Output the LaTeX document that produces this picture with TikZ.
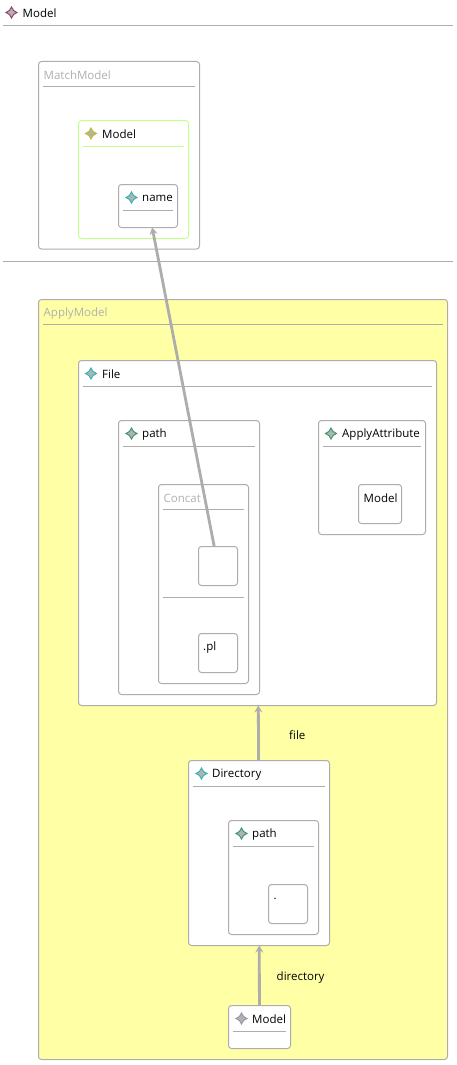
\documentclass[tikz,border=0pt]{standalone}
\usepackage{fontspec}
\setmainfont{Open Sans}
\usetikzlibrary{arrows.meta,shapes.geometric}

\definecolor{rulegray}{HTML}{ADADAD}
\definecolor{palegray}{HTML}{B0B0B0}
\definecolor{applyyellow}{HTML}{FFFFA6}
\definecolor{matchgreen}{HTML}{C4FF8C}
\definecolor{tealstar}{HTML}{38B5B5}
\definecolor{greenstar}{HTML}{3F9A6E}
\definecolor{olivestar}{HTML}{C4C02A}
\definecolor{plumstar}{HTML}{94406A}
\definecolor{silverstar}{HTML}{9A9AA6}

\tikzset{
  modelbox/.style={draw=rulegray,fill=white,rounded corners=3pt,line width=1pt,anchor=north west,inner sep=0pt,outer sep=0pt},
  titlerule/.style={draw=rulegray,line width=1pt},
  caption/.style={anchor=west,inner sep=0pt,font=\fontsize{11.5}{13}\selectfont},
  palecaption/.style={caption,text=palegray},
  staricon/.style={star,star points=4,star point ratio=1.9,minimum size=11pt,inner sep=0pt,line width=1pt,draw=#1,fill=gray!60},
  link/.style={draw=rulegray,line width=2.8pt,-{Stealth[length=7pt,width=8pt,inset=2.5pt]}}
}

\begin{document}
\begin{tikzpicture}[x=1pt,y=-1pt]

\useasboundingbox (0,0) rectangle (456,1065);

% header
\node[staricon=plumstar] (rooticon) at (11.5,12.5) {};
\node[caption] (roottext) at (22.5,13.5) {Model};
\draw[titlerule] (3,25.5) -- (453,25.5);
\draw[titlerule] (3,261.5) -- (453,261.5);

% match side
\node[modelbox,minimum width=161pt,minimum height=187.5pt] (matchmodel) at (38.5,61.5) {};
\node[palecaption] (matchtext) at (43.5,75.5) {MatchModel};
\draw[titlerule] (43,86.5) -- (195,86.5);

\node[modelbox,draw=matchgreen,minimum width=110pt,minimum height=118pt] (model) at (78.5,120.5) {};
\node[staricon=olivestar] (modelicon) at (91,133.5) {};
\node[caption] (modeltext) at (102,134.5) {Model};
\draw[titlerule,draw=matchgreen] (83,146.5) -- (184,146.5);

\node[modelbox,minimum width=59pt,minimum height=43pt] (name) at (118.5,184.5) {};
\node[staricon=tealstar] (nameicon) at (131.5,197.5) {};
\node[caption] (nametext) at (142,198.5) {name};
\draw[titlerule] (123,210.5) -- (173,210.5);

% apply side
\node[modelbox,fill=applyyellow,minimum width=409pt,minimum height=760pt] (applymodel) at (38.5,299.5) {};
\node[palecaption] (applytext) at (43.5,313.5) {ApplyModel};
\draw[titlerule] (43,324.5) -- (443,324.5);

\node[modelbox,minimum width=358pt,minimum height=345pt] (file) at (78.5,360.5) {};
\node[staricon=tealstar] (fileicon) at (91,373.5) {};
\node[caption] (filetext) at (102,374.5) {File};
\draw[titlerule] (83,386.5) -- (432,386.5);

\node[modelbox,minimum width=141pt,minimum height=274pt] (filepath) at (118.5,420.5) {};
\node[staricon=greenstar] (filepathicon) at (131.5,433.5) {};
\node[caption] (filepathtext) at (142,434.5) {path};
\draw[titlerule] (123,446.5) -- (255,446.5);

\node[modelbox,minimum width=90pt,minimum height=199pt] (concat) at (158.5,484.5) {};
\node[palecaption] (concattext) at (163.5,498.5) {Concat};
\draw[titlerule] (163,509.5) -- (244,509.5);
\draw[titlerule] (163,597.5) -- (244,597.5);

\node[modelbox,minimum width=39pt,minimum height=39pt] (blank) at (198.5,546.5) {};
\node[modelbox,minimum width=39pt,minimum height=39pt] (extbox) at (198.5,633.5) {};
\node[caption] (exttext) at (203,647.5) {.pl};

\node[modelbox,minimum width=107pt,minimum height=114pt] (applyattr) at (318.5,420.5) {};
\node[staricon=greenstar] (applyattricon) at (331,433.5) {};
\node[caption] (applyattrtext) at (342,434.5) {ApplyAttribute};
\draw[titlerule] (323,446.5) -- (421,446.5);

\node[modelbox,minimum width=43pt,minimum height=39pt] (attrbox) at (358.5,484.5) {};
\node[caption] (attrtext) at (363.5,498.5) {Model};

\node[modelbox,minimum width=141pt,minimum height=185pt] (directory) at (188.5,760.5) {};
\node[staricon=tealstar] (directoryicon) at (201.5,773.5) {};
\node[caption] (directorytext) at (212,774.5) {Directory};
\draw[titlerule] (193,786.5) -- (325,786.5);

\node[modelbox,minimum width=90pt,minimum height=114pt] (dirpath) at (228.5,820.5) {};
\node[staricon=greenstar] (dirpathicon) at (241.5,833.5) {};
\node[caption] (dirpathtext) at (252,834.5) {path};
\draw[titlerule] (233,846.5) -- (314,846.5);

\node[modelbox,minimum width=39pt,minimum height=39pt] (dotbox) at (268.5,884.5) {};
\node[caption] (dottext) at (273.5,898.5) {.};

\node[modelbox,minimum width=62pt,minimum height=43pt] (rootmodel) at (228.5,1005.5) {};
\node[staricon=silverstar] (rootmodelicon) at (241.5,1018.5) {};
\node[caption] (rootmodeltext) at (252,1019.5) {Model};
\draw[titlerule] (233,1031.5) -- (286,1031.5);

% links
\draw[link] (blank) -- (name);
\draw[link] (directory) -- (file);
\draw[link] (rootmodel) -- (directory);

\node[caption] (filelabel) at (289,735.5) {file};
\node[caption] (directorylabel) at (276.5,977.5) {directory};

\end{tikzpicture}
\end{document}
